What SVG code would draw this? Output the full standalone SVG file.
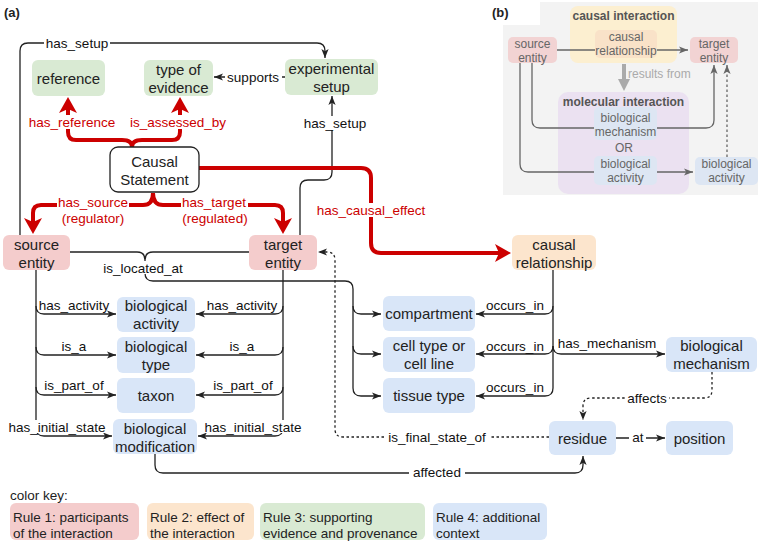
<svg xmlns="http://www.w3.org/2000/svg" width="761" height="543" viewBox="0 0 761 543">
<style>
text{font-family:"Liberation Sans",Arial,sans-serif;dominant-baseline:central}
.n{font-size:15px;fill:#222;text-anchor:middle}
.e{font-size:13.5px;fill:#111;text-anchor:middle}
.r{font-size:13.5px;fill:#c00;text-anchor:middle}
.bg{fill:#fff}
.k{font-size:13.5px;fill:#222}
.bn{font-size:12px;fill:#666;text-anchor:middle}
.bt{font-size:12px;fill:#555;text-anchor:middle;font-weight:bold}
.red{fill:#f4cccc}.org{fill:#fce5cd}.grn{fill:#d9ead3}.blu{fill:#d9e6f8}
.c{fill:none;stroke:#222;stroke-width:1.3}
.cr{fill:none;stroke:#c00;stroke-width:4}
.d{stroke-dasharray:2.5 2.5}
.g{fill:none;stroke:#666;stroke-width:1.3}
</style>
<defs>
<marker id="ab" viewBox="0 0 10 10" refX="10" refY="5" markerWidth="9" markerHeight="9" markerUnits="userSpaceOnUse" orient="auto"><path d="M0,1 L10,5 L0,9 L2.5,5 z" fill="#222"/></marker>
<marker id="ag" viewBox="0 0 10 10" refX="10" refY="5" markerWidth="9" markerHeight="9" markerUnits="userSpaceOnUse" orient="auto"><path d="M0,1 L10,5 L0,9 L2.5,5 z" fill="#666"/></marker>
<marker id="ar" viewBox="0 0 16 18" refX="4" refY="9" markerWidth="16" markerHeight="18" markerUnits="userSpaceOnUse" orient="auto"><path d="M0,0 L16,9 L0,18 L4,9 z" fill="#c00"/></marker>
</defs>
<rect width="761" height="543" fill="#fff"/>
<text x="4" y="12" style="font-size:13px;font-weight:bold;fill:#222">(a)</text>

<!-- panel b -->
<g id="panel-b">
<rect x="503" y="2" width="255" height="193" fill="#f3f3f3"/>
<rect x="488" y="0" width="52" height="25" fill="#fff"/>
<text x="492" y="12" style="font-size:13px;font-weight:bold;fill:#222">(b)</text>
<g id="b-causal-interaction"><rect x="570" y="6" width="107" height="57" rx="8" fill="#fcefd0"/><text class="bt" x="623.5" y="16">causal interaction</text></g>
<g id="b-molecular-interaction"><rect x="558" y="92" width="131" height="102" rx="10" fill="#ebe1f1"/><text class="bt" x="623.5" y="102">molecular interaction</text></g>
<g id="b-connectors">
<path class="g" d="M557,50 H688" marker-end="url(#ag)"/>
<path class="g" d="M532,63 V120 Q532,128 540,128 H706 Q714,128 714,120 V65" marker-end="url(#ag)"/>
<path class="g" d="M520,63 V164 Q520,172 528,172 H693" marker-end="url(#ag)"/>
<path class="g d" d="M727,157 V65" marker-end="url(#ag)"/>
<path d="M624,64 V80" stroke="#aaa" stroke-width="4"/>
<polygon points="618,79 630,79 624,91" fill="#aaa"/>
<text x="628" y="74" style="font-size:12px;fill:#aaa">results from</text>
</g>
<g id="b-source"><rect x="508" y="37" width="49" height="26" rx="5" fill="#f2d3d3"/><text class="bn" x="532.5" y="44">source</text><text class="bn" x="532.5" y="58">entity</text></g>
<g id="b-target"><rect x="690" y="37" width="48" height="26" rx="5" fill="#f2d3d3"/><text class="bn" x="714" y="44">target</text><text class="bn" x="714" y="58">entity</text></g>
<g id="b-causal-relationship"><rect x="595" y="30" width="62" height="28" rx="5" fill="#f9e2c8"/><text class="bn" x="626" y="37">causal</text><text class="bn" x="626" y="51">relationship</text></g>
<g id="b-mechanism"><rect x="594" y="107" width="63" height="33" rx="5" fill="#dde6f3"/><text class="bn" x="625.5" y="118">biological</text><text class="bn" x="625.5" y="132">mechanism</text></g>
<text class="bn" x="624" y="148">OR</text>
<g id="b-activity-inner"><rect x="594" y="156" width="63" height="29" rx="5" fill="#dde6f3"/><text class="bn" x="625.5" y="164">biological</text><text class="bn" x="625.5" y="178">activity</text></g>
<g id="b-activity-outer"><rect x="695" y="157" width="63" height="28" rx="5" fill="#dde6f3"/><text class="bn" x="726.5" y="164">biological</text><text class="bn" x="726.5" y="178">activity</text></g>
</g>

<!-- connectors panel a -->
<g id="connectors">
<path class="c" d="M20,235 V51 Q20,43 28,43 H317 Q325,43 325,51 V58" marker-end="url(#ab)"/>
<rect class="bg" x="44" y="36" width="66" height="14"/><text class="e" x="77" y="43">has_setup</text>
<path class="c" d="M285,77 H214" marker-end="url(#ab)"/>
<rect class="bg" x="225" y="70" width="57" height="14"/><text class="e" x="253" y="77">supports</text>
<path class="c" d="M300,235 V188 Q300,180 308,180 H324 Q332,180 332,172 V96" marker-end="url(#ab)"/>
<rect class="bg" x="302" y="116" width="66" height="14"/><text class="e" x="335" y="123">has_setup</text>

<path class="cr" d="M132,147 Q132,140 122,140 H76 Q68,140 68,132 V109" marker-end="url(#ar)"/>
<path class="cr" d="M132,147 Q132,140 142,140 H172 Q180,140 180,132 V109" marker-end="url(#ar)"/>
<rect class="bg" x="27" y="115" width="90" height="14"/><text class="r" x="72" y="122">has_reference</text>
<rect class="bg" x="128" y="115" width="100" height="14"/><text class="r" x="178" y="122">is_assessed_by</text>
<path class="cr" d="M153,193 Q153,205 143,205 H41 Q33,205 33,213 V222" marker-end="url(#ar)"/>
<path class="cr" d="M153,193 Q153,205 163,205 H275 Q283,205 283,213 V222" marker-end="url(#ar)"/>
<rect class="bg" x="57" y="195" width="72" height="14"/><text class="r" x="93" y="202">has_source</text>
<text class="r" x="93" y="218">(regulator)</text>
<rect class="bg" x="181" y="195" width="67" height="14"/><text class="r" x="214" y="202">has_target</text>
<text class="r" x="215" y="218">(regulated)</text>
<path class="cr" d="M199,168 H361 Q371,168 371,178 V243 Q371,253 381,253 H499" marker-end="url(#ar)"/>
<rect class="bg" x="315" y="203" width="112" height="14"/><text class="r" x="371" y="210">has_causal_effect</text>

<path class="c" d="M70,252 H137 Q145,252 145,260 M249,252 H153 Q145,252 145,260 V273 Q145,281 153,281 H345 Q353,281 353,289 V388 Q353,396 361,396 H381" marker-end="url(#ab)"/>
<path class="c" d="M353,306 Q353,314 361,314 H381" marker-end="url(#ab)"/>
<path class="c" d="M353,346 Q353,354 361,354 H381" marker-end="url(#ab)"/>
<rect class="bg" x="102" y="261" width="83" height="13"/><text class="e" x="143" y="268">is_located_at</text>

<path class="c" d="M36,270 V428 Q36,436 44,436 H112" marker-end="url(#ab)"/>
<path class="c" d="M36,306 Q36,314 44,314 H116" marker-end="url(#ab)"/>
<path class="c" d="M36,347 Q36,355 44,355 H116" marker-end="url(#ab)"/>
<path class="c" d="M36,387 Q36,395 44,395 H116" marker-end="url(#ab)"/>
<text class="e" x="74" y="305">has_activity</text>
<text class="e" x="74" y="346">is_a</text>
<text class="e" x="74" y="385">is_part_of</text>
<rect class="bg" x="7" y="420" width="101" height="13"/><text class="e" x="57" y="427">has_initial_state</text>

<path class="c" d="M283,270 V428 Q283,436 275,436 H198" marker-end="url(#ab)"/>
<path class="c" d="M283,306 Q283,314 275,314 H196" marker-end="url(#ab)"/>
<path class="c" d="M283,347 Q283,355 275,355 H196" marker-end="url(#ab)"/>
<path class="c" d="M283,387 Q283,395 275,395 H196" marker-end="url(#ab)"/>
<text class="e" x="242" y="305">has_activity</text>
<text class="e" x="242" y="346">is_a</text>
<text class="e" x="243" y="385">is_part_of</text>
<rect class="bg" x="203" y="420" width="101" height="13"/><text class="e" x="253" y="427">has_initial_state</text>

<path class="c" d="M553,270 V388 Q553,396 545,396 H476" marker-end="url(#ab)"/>
<path class="c" d="M553,306 Q553,314 545,314 H476" marker-end="url(#ab)"/>
<path class="c" d="M553,346 Q553,354 545,354 H476" marker-end="url(#ab)"/>
<path class="c" d="M553,346 Q553,354 561,354 H665" marker-end="url(#ab)"/>
<text class="e" x="515" y="305">occurs_in</text>
<text class="e" x="515" y="346">occurs_in</text>
<text class="e" x="515" y="387">occurs_in</text>
<text class="e" x="607" y="343">has_mechanism</text>

<path class="c d" d="M712,372 V390 Q712,398 704,398 H591 Q583,398 583,406 V420" marker-end="url(#ab)"/>
<rect class="bg" x="625" y="391" width="44" height="14"/><text class="e" x="647" y="398">affects</text>
<path class="c d" d="M549,437 H343 Q335,437 335,429 V260 Q335,252 327,252 H318" marker-end="url(#ab)"/>
<rect class="bg" x="384" y="430" width="106" height="14"/><text class="e" x="437" y="437">is_final_state_of</text>
<path class="c" d="M616,438 H665" marker-end="url(#ab)"/>
<rect class="bg" x="629" y="431" width="17" height="14"/><text class="e" x="638" y="437">at</text>
<path class="c" d="M155,454 V465 Q155,473 163,473 H575 Q583,473 583,465 V456" marker-end="url(#ab)"/>
<rect class="bg" x="409" y="465" width="56" height="15"/><text class="e" x="437" y="472">affected</text>
</g>

<!-- nodes -->
<g id="reference"><rect class="grn" x="32" y="60" width="73" height="36" rx="6"/><text class="n" x="68.5" y="78">reference</text></g>
<g id="type-of-evidence"><rect class="grn" x="144" y="60" width="69" height="36" rx="6"/><text class="n" x="178.5" y="69">type of</text><text class="n" x="178.5" y="87">evidence</text></g>
<g id="experimental-setup"><rect class="grn" x="285" y="59" width="93" height="36" rx="6"/><text class="n" x="331.5" y="68">experimental</text><text class="n" x="331.5" y="86">setup</text></g>
<g id="causal-statement"><rect x="110" y="147" width="89" height="45" rx="8" fill="#fff" stroke="#222" stroke-width="1.3"/><text class="n" x="154.5" y="161">Causal</text><text class="n" x="154.5" y="179">Statement</text></g>
<g id="source-entity"><rect class="red" x="3" y="235" width="67" height="35" rx="6"/><text class="n" x="36.5" y="244">source</text><text class="n" x="36.5" y="262">entity</text></g>
<g id="target-entity"><rect class="red" x="249" y="235" width="68" height="35" rx="6"/><text class="n" x="283" y="244">target</text><text class="n" x="283" y="262">entity</text></g>
<g id="causal-relationship"><rect class="org" x="512" y="235" width="84" height="35" rx="6"/><text class="n" x="554" y="244">causal</text><text class="n" x="554" y="262">relationship</text></g>
<g id="biological-activity"><rect class="blu" x="117" y="297" width="78" height="35" rx="6"/><text class="n" x="156" y="305.5">biological</text><text class="n" x="156" y="323.5">activity</text></g>
<g id="biological-type"><rect class="blu" x="117" y="337" width="78" height="36" rx="6"/><text class="n" x="156" y="346">biological</text><text class="n" x="156" y="364">type</text></g>
<g id="taxon"><rect class="blu" x="117" y="378" width="78" height="35" rx="6"/><text class="n" x="156" y="395.5">taxon</text></g>
<g id="biological-modification"><rect class="blu" x="113" y="419" width="84" height="35" rx="6"/><text class="n" x="155" y="428">biological</text><text class="n" x="155" y="446">modification</text></g>
<g id="compartment"><rect class="blu" x="383" y="296" width="92" height="35" rx="6"/><text class="n" x="429" y="313.5">compartment</text></g>
<g id="cell-type"><rect class="blu" x="383" y="337" width="92" height="35" rx="6"/><text class="n" x="429" y="345.5">cell type or</text><text class="n" x="429" y="363.5">cell line</text></g>
<g id="tissue-type"><rect class="blu" x="383" y="378" width="92" height="35" rx="6"/><text class="n" x="429" y="395.5">tissue type</text></g>
<g id="biological-mechanism"><rect class="blu" x="666" y="337" width="91" height="35" rx="6"/><text class="n" x="711.5" y="345.5">biological</text><text class="n" x="711.5" y="363.5">mechanism</text></g>
<g id="residue"><rect class="blu" x="549" y="421" width="67" height="34" rx="6"/><text class="n" x="582.5" y="438">residue</text></g>
<g id="position"><rect class="blu" x="666" y="421" width="67" height="34" rx="6"/><text class="n" x="699.5" y="438">position</text></g>

<!-- color key -->
<g id="color-key">
<text class="k" x="10" y="495">color key:</text>
<rect class="red" x="10" y="503" width="129" height="37" rx="6"/>
<text class="k" x="13" y="517">Rule 1: participants</text><text class="k" x="13" y="533">of the interaction</text>
<rect class="org" x="147" y="503" width="107" height="37" rx="6"/>
<text class="k" x="150" y="517">Rule 2: effect of</text><text class="k" x="150" y="533">the interaction</text>
<rect class="grn" x="260" y="503" width="165" height="37" rx="6"/>
<text class="k" x="263" y="517">Rule 3: supporting</text><text class="k" x="263" y="533">evidence and provenance</text>
<rect class="blu" x="433" y="503" width="114" height="37" rx="6"/>
<text class="k" x="436" y="517">Rule 4: additional</text><text class="k" x="436" y="533">context</text>
</g>
</svg>
